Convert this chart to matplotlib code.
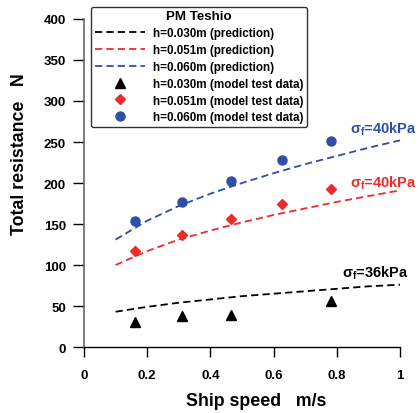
import matplotlib
matplotlib.use("Agg")
import matplotlib.pyplot as plt

plt.rcParams['font.family'] = ['Liberation Sans', 'DejaVu Sans']
plt.rcParams['font.weight'] = 'bold'
plt.rcParams['mathtext.fontset'] = 'custom'
plt.rcParams['mathtext.rm'] = 'Liberation Sans:bold'
plt.rcParams['mathtext.bf'] = 'Liberation Sans:bold'
plt.rcParams['mathtext.it'] = 'Liberation Sans:bold'

# prediction curves
v_pred = [0.1, 0.2, 0.3, 0.4, 0.5, 0.6, 0.7, 0.8, 0.9, 1.0]
r_pred_030 = [43, 49, 54, 58, 62, 65, 68, 71, 74, 76]
r_pred_051 = [100, 117, 131, 142, 152, 161, 169, 177, 184, 191]
r_pred_060 = [131, 154, 172, 187, 200, 212, 223, 233, 243, 252]

# model test data
v_test_030 = [0.16, 0.31, 0.465, 0.78]
r_test_030 = [31, 38, 39, 56]
v_test = [0.16, 0.31, 0.465, 0.625, 0.78]
r_test_051 = [117, 137, 156, 175, 193]
r_test_060 = [154, 177, 203, 228, 251]

blue = '#2E4EA8'
red = '#EE2B2B'

fig = plt.figure(figsize=(4.18, 4.14), dpi=100)
ax = fig.add_axes([0.201, 0.1594, 0.756, 0.7923])

dash = (4, 2.3)
ax.plot(v_pred, r_pred_030, color='black', lw=1.3, dashes=dash, label='h=0.030m (prediction)')
ax.plot(v_pred, r_pred_051, color=red, lw=1.3, dashes=dash, label='h=0.051m (prediction)')
ax.plot(v_pred, r_pred_060, color=blue, lw=1.3, dashes=dash, label='h=0.060m (prediction)')

ax.plot(v_test_030, r_test_030, '^', color='black', ms=6.5, ls='none', label='h=0.030m (model test data)')
ax.plot(v_test, r_test_051, 'D', color=red, ms=5.5, ls='none', label='h=0.051m (model test data)')
ax.plot(v_test, r_test_060, 'o', color=blue, ms=6.5, ls='none', label='h=0.060m (model test data)')

ax.set_xlim(0, 1)
ax.set_ylim(0, 400)
ax.set_xticks([0, 0.2, 0.4, 0.6, 0.8, 1])
ax.set_xticklabels(['0', '0.2', '0.4', '0.6', '0.8', '1'])
ax.set_yticks(range(0, 401, 50))
ax.spines['top'].set_visible(False)
ax.spines['right'].set_visible(False)
ax.spines['left'].set_color('#666666')
ax.spines['left'].set_linewidth(1.2)
ax.spines['bottom'].set_linewidth(1.0)
ax.tick_params(axis='both', direction='out', length=8, width=1, labelsize=9.5, pad=5)
ax.tick_params(axis='x', length=7.5, pad=8)

ax.set_xlabel('Ship speed   m/s', fontsize=12.8, fontweight='bold')
ax.set_ylabel('Total resistance   N', fontsize=12.8, fontweight='bold')
ax.xaxis.set_label_coords(0.544, -0.137)
ax.yaxis.set_label_coords(-0.177, 0.591)

ax.text(0.843, 262, r'$\sigma_\mathrm{f}$=40kPa', color=blue, fontsize=10.5)
ax.text(0.843, 196, r'$\sigma_\mathrm{f}$=40kPa', color=red, fontsize=10.5)
ax.text(0.815, 86, r'$\sigma_\mathrm{f}$=36kPa', color='black', fontsize=10.5)

leg = ax.legend(loc='upper left', bbox_to_anchor=(0.015, 1.045), title='PM Teshio',
                fontsize=8.4, title_fontsize=9.6, frameon=True, fancybox=True,
                edgecolor='black', handlelength=4.3, labelspacing=0.42,
                borderpad=0.3, handletextpad=0.7, borderaxespad=0.2)
leg.get_frame().set_linewidth(1.0)
leg.get_title().set_fontweight('bold')
for t in leg.get_texts():
    t.set_fontweight('bold')

fig.savefig('out.png', dpi=100)
